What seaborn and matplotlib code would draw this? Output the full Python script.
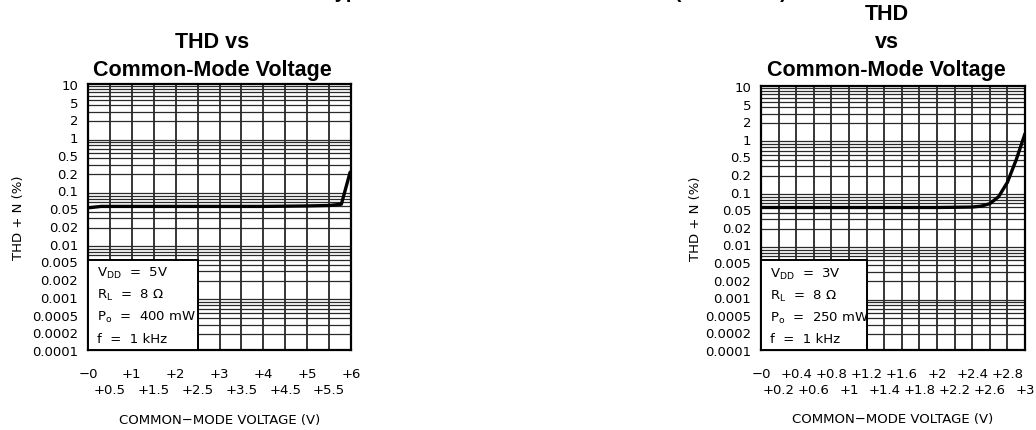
import numpy as np
import pandas as pd
import matplotlib
matplotlib.use("Agg")
import matplotlib.pyplot as plt
from matplotlib.ticker import LogLocator, NullFormatter, FixedLocator
from matplotlib.patches import Rectangle
import seaborn as sns

# ---------------- data ----------------
left_v = [0.0, 0.3, 1.0, 2.0, 3.0, 4.0, 5.0, 5.5, 5.78, 5.98]
left_thd = [0.047, 0.050, 0.050, 0.050, 0.050, 0.050, 0.051, 0.052, 0.055, 0.22]

right_v = [0.0, 0.5, 1.0, 1.5, 2.0, 2.4, 2.5, 2.6, 2.7, 2.8, 2.9, 3.0]
right_thd = [0.050, 0.050, 0.050, 0.050, 0.050, 0.051, 0.053, 0.059, 0.080, 0.15, 0.40, 1.25]

y_tick_labels = ["0.0001", "0.0002", "0.0005", "0.001", "0.002", "0.005", "0.01",
                 "0.02", "0.05", "0.1", "0.2", "0.5", "1", "2", "5", "10"]

left_top_ticks = [0, 1, 2, 3, 4, 5, 6]
left_top_labels = ["\u22120", "+1", "+2", "+3", "+4", "+5", "+6"]
left_bot_ticks = [0.5, 1.5, 2.5, 3.5, 4.5, 5.5]
left_bot_labels = ["+0.5", "+1.5", "+2.5", "+3.5", "+4.5", "+5.5"]

right_top_ticks = [0, 0.4, 0.8, 1.2, 1.6, 2.0, 2.4, 2.8]
right_top_labels = ["\u22120", "+0.4", "+0.8", "+1.2", "+1.6", "+2", "+2.4", "+2.8"]
right_bot_ticks = [0.2, 0.6, 1.0, 1.4, 1.8, 2.2, 2.6, 3.0]
right_bot_labels = ["+0.2", "+0.6", "+1", "+1.4", "+1.8", "+2.2", "+2.6", "+3"]

left_cond = ["$V_{DD}$  =  5V", "$R_L$  =  8 \u03a9", "$P_o$  =  400 mW", "f  =  1 kHz"]
right_cond = ["$V_{DD}$  =  3V", "$R_L$  =  8 \u03a9", "$P_o$  =  250 mW", "f  =  1 kHz"]

left_box = (2.5, 0.005)
right_box = (1.2, 0.005)

# ---------------- style ----------------
sns.set_theme(style="white")
plt.rcParams["font.family"] = ["DejaVu Sans"]
plt.rcParams["mathtext.fontset"] = "dejavusans"
plt.rcParams["mathtext.default"] = "regular"
for k in ["text.color", "axes.labelcolor", "xtick.color", "ytick.color"]:
    plt.rcParams[k] = "black"

fig = plt.figure(figsize=(10.36, 4.31), dpi=100)
W, H = 1036, 431

def px_axes(x0, x1, y0, y1):
    return fig.add_axes([x0 / W, 1 - y1 / H, (x1 - x0) / W, (y1 - y0) / H])

ax_l = px_axes(88, 351, 85, 351)
ax_r = px_axes(761, 1025, 87, 351)

TICK_FS = 9.5
TITLE_FONT = ["Liberation Sans", "DejaVu Sans"]


def setup(ax, xs, ys, xmax, top_t, top_l, bot_t, bot_l, box, cond):
    ax.set_yscale("log")
    ax.set_xlim(0, xmax)
    ax.set_ylim(1e-4, 10)
    df = pd.DataFrame({"v": xs, "thd": ys})
    sns.lineplot(data=df, x="v", y="thd", ax=ax, color="black", lw=2.4, zorder=5)

    # y ticks: evenly spaced labels (one third of a decade)
    ypos = [10 ** (k / 3) for k in range(-12, 4)]
    ax.yaxis.set_major_locator(FixedLocator(ypos))
    ax.set_yticklabels(y_tick_labels)
    ax.yaxis.set_minor_locator(LogLocator(base=10, subs=np.arange(1, 10), numticks=20))
    ax.yaxis.set_minor_formatter(NullFormatter())

    # x ticks: two rows
    ax.set_xticks(top_t)
    ax.set_xticklabels(top_l)
    ax.set_xticks(bot_t, minor=True)
    ax.set_xticklabels(bot_l, minor=True)

    ax.tick_params(axis="both", which="both", length=0, labelsize=TICK_FS, colors="black")
    ax.tick_params(axis="y", which="major", pad=7)
    ax.tick_params(axis="x", which="major", pad=12)
    ax.tick_params(axis="x", which="minor", pad=23.5)

    ax.grid(False)
    ax.grid(True, axis="x", which="both", color="black", lw=1.1)
    ax.grid(True, axis="y", which="minor", color="#2a2a2a", lw=0.9)
    ax.set_axisbelow(True)

    for s in ax.spines.values():
        s.set_color("black")
        s.set_linewidth(1.6)
        s.set_visible(True)

    rect = Rectangle((0, 1e-4), box[0], box[1] - 1e-4, facecolor="white",
                     edgecolor="black", lw=1.4, zorder=3)
    ax.add_patch(rect)
    for i, t in enumerate(cond):
        ax.text(0.034, [0.29, 0.208, 0.125, 0.042][i], t, transform=ax.transAxes,
                fontsize=TICK_FS, va="center", ha="left", zorder=6)

    ax.set_xlabel("COMMON\u2212MODE VOLTAGE (V)", fontsize=TICK_FS)
    ax.xaxis.set_label_coords(0.5, -0.236)
    ax.set_ylabel("THD + N (%)", fontsize=TICK_FS)


setup(ax_l, left_v, left_thd, 6, left_top_ticks, left_top_labels,
      left_bot_ticks, left_bot_labels, left_box, left_cond)
setup(ax_r, right_v, right_thd, 3, right_top_ticks, right_top_labels,
      right_bot_ticks, right_bot_labels, right_box, right_cond)
ax_l.yaxis.set_label_coords(-0.24, 0.5)
ax_r.yaxis.set_label_coords(-0.225, 0.5)

# titles
def ftxt(x, y, s, **kw):
    fig.text(x / W, 1 - y / H, s, ha="center", va="baseline", fontsize=15.5,
             fontweight="bold", family=TITLE_FONT, color="black", **kw)

ftxt(212.5, 48, "THD vs")
ftxt(212.5, 76, "Common-Mode Voltage")
ftxt(886.5, 20, "THD")
ftxt(886.5, 48, "vs")
ftxt(886.5, 76, "Common-Mode Voltage")

# page heading, cut off at the top edge (only descenders show, as in the source)
fig.text(555 / W, 1 + 2.5 / H, "Typical Performance Characteristics (Continued)",
         ha="center", va="baseline", fontsize=14.4, fontweight="bold",
         family=TITLE_FONT, color="black")

fig.savefig("out.png", dpi=100)
